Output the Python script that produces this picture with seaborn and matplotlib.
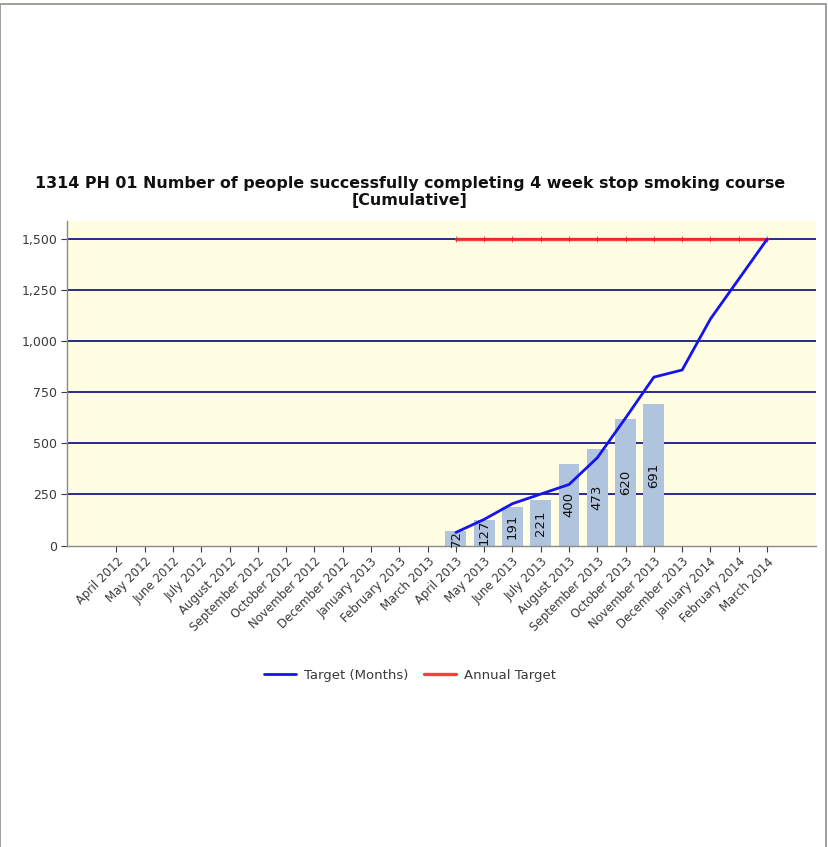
import numpy as np
import pandas as pd
import matplotlib
matplotlib.use("Agg")
import matplotlib.pyplot as plt
from matplotlib.patches import Rectangle
from matplotlib.ticker import FuncFormatter
import seaborn as sns

# Reporting months (April 2012 - March 2014)
months = [
    "April 2012", "May 2012", "June 2012", "July 2012", "August 2012",
    "September 2012", "October 2012", "November 2012", "December 2012",
    "January 2013", "February 2013", "March 2013",
    "April 2013", "May 2013", "June 2013", "July 2013", "August 2013",
    "September 2013", "October 2013", "November 2013", "December 2013",
    "January 2014", "February 2014", "March 2014",
]

# Actual cumulative completions (bars)
actual_months = ["April 2013", "May 2013", "June 2013", "July 2013",
                 "August 2013", "September 2013", "October 2013", "November 2013"]
actual_values = [72, 127, 191, 221, 400, 473, 620, 691]

# Monthly cumulative target (blue line)
target_months = ["April 2013", "May 2013", "June 2013", "July 2013",
                 "August 2013", "September 2013", "October 2013", "November 2013",
                 "December 2013", "January 2014", "February 2014", "March 2014"]
target_values = [64, 128, 205, 252, 299, 430, 625, 825, 860, 1110, 1305, 1500]

# Annual target (red line)
annual_target = [1500] * 12

title = ("1314 PH 01 Number of people successfully completing 4 week stop smoking course\n"
         "[Cumulative]")

sns.set_theme(style="white")
plt.rcParams["font.family"] = ["DejaVu Sans"]

W, H = 829, 847
fig = plt.figure(figsize=(W / 100, H / 100), dpi=100)
ax = fig.add_axes([67 / W, 1 - 545.5 / H, (816.5 - 67) / W, (545.5 - 221) / H])
ax.set_facecolor("#FFFDE2")

pos = {m: i for i, m in enumerate(months)}

df_bar = pd.DataFrame({"month": actual_months, "value": actual_values})
sns.barplot(data=df_bar, x="month", y="value", order=months, color="#B0C4DE",
            saturation=1, width=0.74, linewidth=0, ax=ax, zorder=2)

df_target = pd.DataFrame({"x": [pos[m] for m in target_months], "value": target_values})
df_annual = pd.DataFrame({"x": [pos[m] for m in target_months], "value": annual_target})

sns.lineplot(data=df_target, x="x", y="value", color="#1414F0", linewidth=2.0,
             ax=ax, zorder=4, label="Target (Months)")
sns.lineplot(data=df_annual, x="x", y="value", color="#FF2A2A", linewidth=2.4,
             alpha=0.9, marker="|", markersize=4, markeredgewidth=0.6,
             markeredgecolor="#E02020", ax=ax, zorder=3, label="Annual Target")

# value labels inside the bars
ax.bar_label(ax.containers[0], labels=[str(v) for v in actual_values],
             label_type="center", rotation=90, fontsize=9.5, color="#111111")

# horizontal gridlines
yt = [0, 250, 500, 750, 1000, 1250, 1500]
for y in yt[1:]:
    ax.axhline(y, color="#2A2A8E", linewidth=1.4, zorder=1)

ax.set_ylim(0, 1590)
ax.set_xlim(-1.75, len(months) - 1 + 1.75)
ax.set_yticks(yt)
ax.yaxis.set_major_formatter(FuncFormatter(lambda v, p: f"{int(v):,}"))
ax.set_xticks(range(len(months)))
ax.set_xticklabels(months, rotation=45, ha="right", rotation_mode="anchor",
                   fontsize=8.5, color="#3A3A3A")
ax.tick_params(axis="y", labelsize=9, colors="#3A3A3A", length=4, width=0.8,
               direction="out", left=True, pad=3)
ax.tick_params(axis="x", length=4, width=0.8, direction="out", bottom=True,
               colors="#3A3A3A", pad=3)
ax.set_xlabel("")
ax.set_ylabel("")

for s in ["top", "right"]:
    ax.spines[s].set_visible(False)
for s in ["left", "bottom"]:
    ax.spines[s].set_color("#8A8A8A")
    ax.spines[s].set_linewidth(1.0)

fig.text(410 / W, 1 - 192 / H, title, ha="center", va="center",
         fontsize=11.4, fontweight="bold", color="#111111", linespacing=1.1)

leg = ax.legend(loc="center", bbox_to_anchor=(410 / W, 1 - 675 / H),
                bbox_transform=fig.transFigure, ncol=2, frameon=False,
                fontsize=9.5, handlelength=2.4, columnspacing=1.2, handletextpad=0.6)
for t in leg.get_texts():
    t.set_color("#3A3A3A")
for h in leg.legend_handles:
    h.set_marker("")

# outer frame of the chart panel
fig.patches.append(Rectangle((0.5 / W, -0.01), (826.5 - 0.5) / W, 1 - 4.5 / H + 0.01,
                             transform=fig.transFigure, fill=False,
                             edgecolor="#8E9088", linewidth=1.2))

fig.savefig("out.png", dpi=100, facecolor="white")
